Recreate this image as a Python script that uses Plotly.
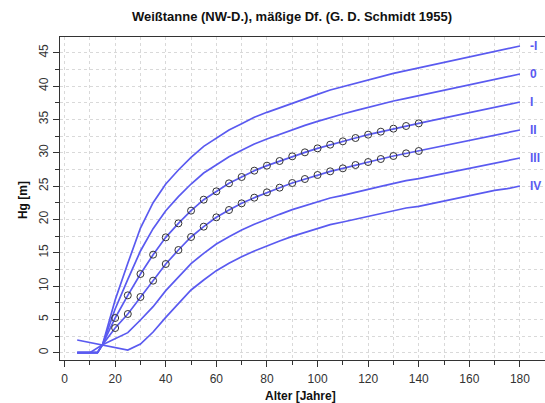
import plotly.graph_objects as go

# ---------------- data ----------------
ages = [20, 25, 30, 35, 40, 45, 50, 55, 60, 65, 70, 75, 80, 85, 90, 95, 100,
        105, 110, 115, 120, 125, 130, 135, 140, 145, 150, 155, 160, 165, 170, 175, 180]

h_m1 = [7.9, 13.4, 18.7, 22.5, 25.3, 27.4, 29.3, 30.95, 32.2, 33.4, 34.35, 35.3, 36.05,
        36.75, 37.45, 38.15, 38.75, 39.4, 39.9, 40.4, 40.9, 41.45, 41.9, 42.3, 42.7,
        43.1, 43.5, 44.0, 44.4, 44.8, 45.2, 45.6, 46.0]
h_0 = [6.55, 11.0, 15.25, 18.6, 21.3, 23.4, 25.3, 26.95, 28.2, 29.4, 30.35, 31.3, 32.05,
       32.75, 33.45, 34.1, 34.7, 35.3, 35.8, 36.3, 36.8, 37.3, 37.75, 38.15, 38.55,
       38.95, 39.35, 39.8, 40.2, 40.6, 41.0, 41.4, 41.8]
h_I = [5.2, 8.6, 11.8, 14.7, 17.3, 19.4, 21.3, 22.95, 24.2, 25.4, 26.35, 27.3, 28.05,
       28.75, 29.45, 30.05, 30.65, 31.2, 31.7, 32.2, 32.7, 33.15, 33.6, 34.0, 34.4,
       34.8, 35.2, 35.6, 36.0, 36.4, 36.8, 37.2, 37.6]
h_II = [3.7, 5.8, 8.35, 10.8, 13.3, 15.4, 17.35, 18.9, 20.3, 21.4, 22.4, 23.25, 24.05,
        24.75, 25.45, 26.05, 26.65, 27.2, 27.65, 28.15, 28.6, 29.05, 29.5, 29.9, 30.25,
        30.65, 31.05, 31.45, 31.85, 32.25, 32.65, 33.0, 33.4]
h_III = [2.1, 3.0, 4.9, 6.9, 9.3, 11.4, 13.35, 14.9, 16.3, 17.4, 18.4, 19.25, 20.05,
         20.75, 21.45, 22.05, 22.65, 23.2, 23.6, 24.1, 24.5, 24.95, 25.4, 25.8, 26.1,
         26.5, 26.9, 27.3, 27.7, 28.1, 28.5, 28.8, 29.2]
h_IV = [0.8, 0.4, 1.3, 3.1, 5.3, 7.4, 9.4, 10.9, 12.3, 13.4, 14.4, 15.25, 16.05,
        16.75, 17.45, 18.05, 18.65, 19.2, 19.6, 20.0, 20.4, 20.85, 21.3, 21.7, 21.95,
        22.35, 22.75, 23.15, 23.55, 23.95, 24.35, 24.6, 25.0]

# early (young) ages of the curves
early_ages_upper = [5, 13, 15]
early_h_upper = [0, 0, 1.2]
early_ages_III = [5, 10, 15]
early_h_III = [0, 0, 1.2]
early_ages_IV = [5, 10, 15]
early_h_IV = [1.9, 1.55, 1.15]

# measured points (circles) on site classes I and II
pt_ages = [20, 25, 30, 35, 40, 45, 50, 55, 60, 65, 70, 75, 80, 85, 90, 95, 100,
           105, 110, 115, 120, 125, 130, 135, 140]
pt_I = [5.2, 8.6, 11.8, 14.7, 17.3, 19.4, 21.3, 22.95, 24.2, 25.4, 26.35, 27.3, 28.05,
        28.75, 29.45, 30.05, 30.65, 31.2, 31.7, 32.2, 32.7, 33.15, 33.6, 34.0, 34.4]
pt_II = [3.7, 5.8, 8.35, 10.8, 13.3, 15.4, 17.35, 18.9, 20.3, 21.4, 22.4, 23.25, 24.05,
         24.75, 25.45, 26.05, 26.65, 27.2, 27.65, 28.15, 28.6, 29.05, 29.5, 29.9, 30.25]

class_labels = ["-I", "0", "I", "II", "III", "IV"]

title = "Weißtanne (NW-D.), mäßige Df. (G. D. Schmidt 1955)"
x_title = "Alter [Jahre]"
y_title = "Hg [m]"

# ---------------- figure ----------------
BLUE = "#5a5af0"
FONT = "Liberation Sans, Arial, sans-serif"

curves = [
    (early_ages_upper, early_h_upper, h_m1),
    (early_ages_upper, early_h_upper, h_0),
    (early_ages_upper, early_h_upper, h_I),
    (early_ages_upper, early_h_upper, h_II),
    (early_ages_III, early_h_III, h_III),
    (early_ages_IV, early_h_IV, h_IV),
]

fig = go.Figure()
for (ea, eh, hv), lab in zip(curves, class_labels):
    fig.add_trace(go.Scatter(x=ea + ages, y=eh + hv, mode="lines",
                             line=dict(color=BLUE, width=1.7), name=lab,
                             showlegend=False, hoverinfo="skip"))

for pv in (pt_I, pt_II):
    fig.add_trace(go.Scatter(x=pt_ages, y=pv, mode="markers",
                             marker=dict(symbol="circle-open", size=7, color="#333333",
                                         line=dict(width=1, color="#333333")),
                             showlegend=False, hoverinfo="skip"))

ends = [h_m1[-1], h_0[-1], h_I[-1], h_II[-1], h_III[-1], h_IV[-1]]
for lab, yv in zip(class_labels, ends):
    fig.add_annotation(x=183.2, y=yv, text="<b>%s</b>" % lab, showarrow=False,
                       xanchor="left", yanchor="middle",
                       font=dict(family=FONT, size=12, color=BLUE))

fig.add_annotation(xref="paper", yref="paper", x=0.495, y=-0.112, text="<b>%s</b>" % x_title,
                   showarrow=False, xanchor="center", yanchor="middle",
                   font=dict(family=FONT, size=12, color="#111111"))
fig.add_annotation(xref="paper", yref="paper", x=-0.0763, y=0.495, text="<b>%s</b>" % y_title,
                   showarrow=False, xanchor="center", yanchor="middle", textangle=-90,
                   font=dict(family=FONT, size=12, color="#111111"))

grid = dict(showgrid=True, gridcolor="#d9d9d9", griddash="dot", gridwidth=1)

fig.update_layout(
    width=545, height=403,
    margin=dict(l=60, r=0, t=37, b=43),
    paper_bgcolor="white", plot_bgcolor="white",
    title=dict(text="<b>%s</b>" % title, x=292 / 545, xref="container", xanchor="center",
               y=1 - 16 / 403, yref="container", yanchor="middle",
               font=dict(family=FONT, size=13, color="#111111")),
    font=dict(family=FONT, size=12, color="#333333"),
    xaxis=dict(range=[-1.8, 189.9], tick0=0, dtick=20, ticks="outside", ticklen=6,
               tickcolor="#333333", showline=True, linecolor="#333333", mirror=True,
               zeroline=False, ticklabelstandoff=2,
               minor=dict(dtick=10, ticks="outside", ticklen=4, tickcolor="#333333", **grid),
               **grid),
    yaxis=dict(range=[-1.1, 47.35], tick0=0, dtick=5, ticks="outside", ticklen=6,
               tickcolor="#333333", showline=True, linecolor="#333333",
               zeroline=False, tickangle=-90,
               minor=dict(dtick=2.5, ticks="outside", ticklen=4, tickcolor="#333333", **grid),
               **grid),
)

fig.write_html("out.html")
